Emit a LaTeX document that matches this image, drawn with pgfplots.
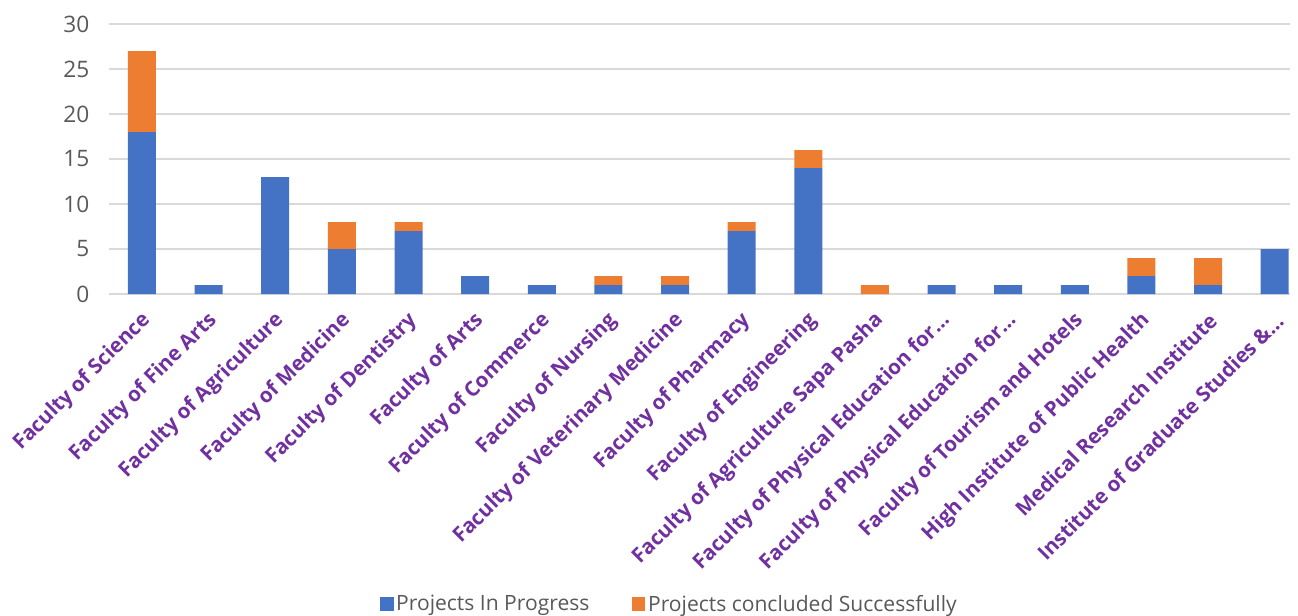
\documentclass[border=0pt]{standalone}
\usepackage{fontspec}
\setmainfont{Open Sans}
\usepackage{pgfplots}
\pgfplotsset{compat=1.18}
\definecolor{inprog}{HTML}{4472C4}
\definecolor{concl}{HTML}{ED7D31}
\definecolor{labpurple}{HTML}{7030A0}
\definecolor{ticktext}{HTML}{595959}
\definecolor{gridgray}{HTML}{D9D9D9}

% values, one row per faculty
\pgfplotstableread{
idx progress concluded
0  18 9
1  1  0
2  13 0
3  5  3
4  7  1
5  2  0
6  1  0
7  1  1
8  1  1
9  7  1
10 14 2
11 0  1
12 1  0
13 1  0
14 1  0
15 2  2
16 1  3
17 5  0
}\facdata

\begin{document}
\begin{tikzpicture}
\begin{axis}[
  scale only axis,
  width=886pt, height=202.5pt,
  ybar stacked, bar width=21pt,
  xmin=-0.5, xmax=17.23,
  ymin=0, ymax=30,
  ytick={0,5,...,30},
  xtick={0,...,17},
  xticklabels={
    Faculty of Science,
    Faculty of Fine Arts,
    Faculty of Agriculture,
    Faculty of Medicine,
    Faculty of Dentistry,
    Faculty of Arts,
    Faculty of Commerce,
    Faculty of Nursing,
    Faculty of Veterinary Medicine,
    Faculty of Pharmacy,
    Faculty of Engineering,
    Faculty of Agriculture Sapa Pasha,
    Faculty of Physical Education for…,
    Faculty of Physical Education for…,
    Faculty of Tourism and Hotels,
    High Institute of Public Health,
    Medical Research Institute,
    Institute of Graduate Studies \&…},
  axis line style={draw=none},
  major tick style={draw=none},
  ymajorgrids,
  grid style={gridgray, line width=1.2pt},
  /pgf/number format/assume math mode=true,
  yticklabel style={font=\fontsize{17}{19}\selectfont, text=ticktext, xshift=-11pt},
  xticklabel style={font=\fontsize{15.5}{17}\selectfont\bfseries, text=labpurple,
    rotate=45, anchor=east, inner sep=1pt, yshift=-15pt, xshift=-8.5pt},
  legend style={at={(0.475,-1.148)}, anchor=center, draw=none,
    font=\fontsize{15.8}{17}\selectfont, text=ticktext,
    legend columns=2, /tikz/every even column/.append style={column sep=30pt}},
  legend image code/.code={\fill[#1] (0pt,-5pt) rectangle (10pt,5pt);},
]
\addplot[fill=inprog, draw=none] table[x=idx, y=progress] {\facdata};
\addplot[fill=concl, draw=none] table[x=idx, y=concluded] {\facdata};
\legend{Projects In Progress, Projects concluded Successfully}
\end{axis}
\pgfresetboundingbox
\useasboundingbox (-81.5pt,-241.5pt) rectangle (892pt,220.5pt);
\end{tikzpicture}
\end{document}
